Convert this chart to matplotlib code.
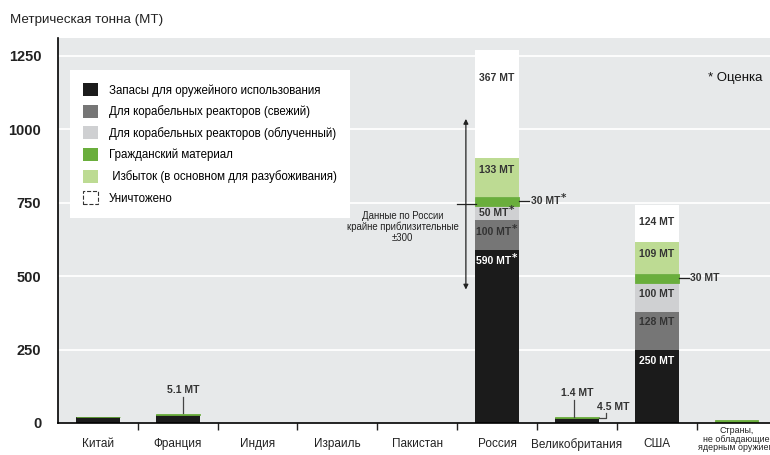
"""Stacked bars: highly enriched uranium stocks by country (metric tonnes)."""
import matplotlib
matplotlib.use("Agg")
import matplotlib.pyplot as plt
from matplotlib.patches import Patch

COUNTRIES = ["Китай", "Франция", "Индия", "Израиль", "Пакистан", "Россия",
             "Великобритания", "США", "Страны,\nне обладающие\nядерным оружием"]
WEAPONS = [20, 26, 0, 0, 0, 590, 17.5, 250, 0]
NAVAL_FRESH = [0, 0, 0, 0, 0, 100, 0, 128, 0]
NAVAL_SPENT = [0, 0, 0, 0, 0, 50, 0, 100, 0]
CIVILIAN = [0, 5.1, 0, 0, 0, 30, 1.4, 30, 10]
EXCESS = [0, 0, 0, 0, 0, 133, 0, 109, 0]
DESTROYED = [0, 0, 0, 0, 0, 367, 0, 124, 0]
YTICKS = [0, 250, 500, 750, 1000, 1250]

LEGEND_LABELS = ["Запасы для оружейного использования",
                 "Для корабельных реакторов (свежий)",
                 "Для корабельных реакторов (облученный)",
                 "Гражданский материал",
                 " Избыток (в основном для разубоживания)",
                 "Уничтожено"]

C_BLACK, C_DGRAY, C_LGRAY = "#1b1b1b", "#767676", "#cfd0d2"
C_GREEN, C_LGREEN, C_WHITE = "#6aae3c", "#bddb93", "#ffffff"
BG = "#e7e9ea"
TEXT = ["Liberation Sans", "DejaVu Sans"]
NARROW = ["Liberation Sans Narrow", "Liberation Sans", "DejaVu Sans"]

fig = plt.figure(figsize=(7.7, 4.55), dpi=100)
ax = fig.add_axes([58 / 770, 32 / 455, 712 / 770, 385 / 455])
ax.set_facecolor(BG)
ax.set_xlim(-0.5, 8.42)
ax.set_ylim(0, 1311)

x = list(range(len(COUNTRIES)))
width = 0.55
layers = [(WEAPONS, C_BLACK), (NAVAL_FRESH, C_DGRAY), (NAVAL_SPENT, C_LGRAY),
          (CIVILIAN, C_GREEN), (EXCESS, C_LGREEN), (DESTROYED, C_WHITE)]
bottom = [0.0] * len(x)
tops = []
for values, color in layers:
    ax.bar(x, values, width, bottom=bottom, color=color, zorder=3,
           edgecolor=color if color == C_GREEN else "none", linewidth=0.6)
    tops.append([b + v for b, v in zip(bottom, values)])
    bottom = [b + v for b, v in zip(bottom, values)]

# grid, spines, ticks
for y in YTICKS[1:]:
    ax.axhline(y, color="white", lw=1.3, zorder=1)
for side in ("top", "right"):
    ax.spines[side].set_visible(False)
for side in ("left", "bottom"):
    ax.spines[side].set_linewidth(1.2)
    ax.spines[side].set_zorder(5)
ax.set_yticks(YTICKS)
ax.set_yticklabels([str(v) for v in YTICKS], family=NARROW, fontweight="bold", fontsize=10.5, color="#222")
ax.tick_params(axis="y", length=0, pad=12)
ax.set_xticks([i + 0.5 for i in range(8)])
ax.set_xticklabels([])
ax.tick_params(axis="x", which="major", length=5, width=1, color="#222")
ax.set_xticks(x, minor=True)
ax.set_xticklabels(COUNTRIES[:-1] + [""], minor=True, family=TEXT, fontsize=8.5, color="#222")
ax.tick_params(axis="x", which="minor", length=0, pad=11)
ax.text(8, -10, COUNTRIES[-1], ha="center", va="top", fontsize=6.4, family=TEXT,
        linespacing=0.95, color="#222", clip_on=False)


def seg_label(i, layer, text, color="#333", star=False, off=38):
    y = tops[layer][i] - off
    t = ax.text(i - (0.04 if star else 0), y, text, ha="center", va="center", family=NARROW,
                fontweight="bold", fontsize=7.5, color=color, zorder=6)
    if star:
        ax.annotate("*", xy=(1, 1), xycoords=t, xytext=(0.5, -1.5), textcoords="offset points",
                    ha="left", va="center", fontsize=7.5, fontweight="bold", color=color, zorder=6)


seg_label(5, 5, "367 MT", off=95)
seg_label(5, 4, "133 MT", off=40)
seg_label(5, 2, "50 MT", star=True, off=25)
seg_label(5, 1, "100 MT", star=True, off=38)
seg_label(5, 0, "590 MT", color="white", star=True, off=38)
seg_label(7, 5, "124 MT", off=55)
seg_label(7, 4, "109 MT", off=40)
seg_label(7, 2, "100 MT", off=38)
seg_label(7, 1, "128 MT", off=35)
seg_label(7, 0, "250 MT", color="white", off=40)

# civilian leaders on Russia and USA
for i, star in ((5, True), (7, False)):
    yc = tops[2][i] + CIVILIAN[i] / 2
    ax.plot([i + width / 2, i + 0.4], [yc, yc], color="#222", lw=0.9, zorder=6)
    t = ax.text(i + 0.42, yc, "30 MT", ha="left", va="center",
                family=NARROW, fontweight="bold", fontsize=7.5, color="#333", zorder=6)
    if star:
        ax.annotate("*", xy=(1, 1), xycoords=t, xytext=(0.5, -1.5), textcoords="offset points",
                    ha="left", va="center", fontsize=7.5, fontweight="bold", color="#333", zorder=6)

# small-value call-outs
ax.plot([1.07, 1.07], [tops[3][1] + 2, 89], color="#444", lw=0.9, zorder=6)
ax.text(1.07, 112, "5.1 MT", ha="center", va="center", family=NARROW, fontweight="bold",
        fontsize=7.5, color="#333")
ax.plot([5.97, 5.97], [tops[3][6] + 2, 78], color="#444", lw=0.9, zorder=6)
ax.text(6.0, 102, "1.4 MT", ha="center", va="center", family=NARROW, fontweight="bold",
        fontsize=7.5, color="#333")
ax.plot([6.28, 6.37, 6.37], [17, 17, 34], color="#444", lw=0.9, zorder=6)
ax.text(6.46, 54, "4.5 MT", ha="center", va="center", family=NARROW, fontweight="bold",
        fontsize=7.5, color="#333")

# uncertainty for Russia
ax.annotate("", xy=(4.61, 1045), xytext=(4.61, 445),
            arrowprops=dict(arrowstyle="<|-|>", color="#222", lw=0.9, mutation_scale=7), zorder=6)
ax.plot([4.50, 4.74], [745, 745], color="#222", lw=0.9, zorder=6)
ax.text(3.82, 667, "Данные по России\nкрайне приблизительные\n±300", ha="center", va="center",
        family=TEXT, fontsize=6.9, linespacing=1.1, color="#222")

ax.text(7.98, 1175, "* Оценка", ha="center", va="center", family=TEXT, fontsize=9.5, color="#111")
fig.text(10 / 770, 1 - 20 / 455, "Метрическая тонна (МТ)", ha="left", va="center",
         family=TEXT, fontsize=9.6, color="#222")

handles = [Patch(facecolor=c, edgecolor="none") for c in (C_BLACK, C_DGRAY, C_LGRAY, C_GREEN, C_LGREEN)]
handles.append(Patch(facecolor="white", edgecolor="#333", linestyle="--", linewidth=0.8))
leg = ax.legend(handles, LEGEND_LABELS, loc="upper left", bbox_to_anchor=(0.017, 0.917),
                borderaxespad=0, prop={"family": TEXT, "size": 8.3}, frameon=True, fancybox=False,
                framealpha=1, edgecolor="none", handlelength=1.3, handleheight=1.35,
                handletextpad=0.9, labelspacing=0.72, borderpad=1.15)
leg.set_zorder(7)

fig.savefig("out.png", dpi=100)
